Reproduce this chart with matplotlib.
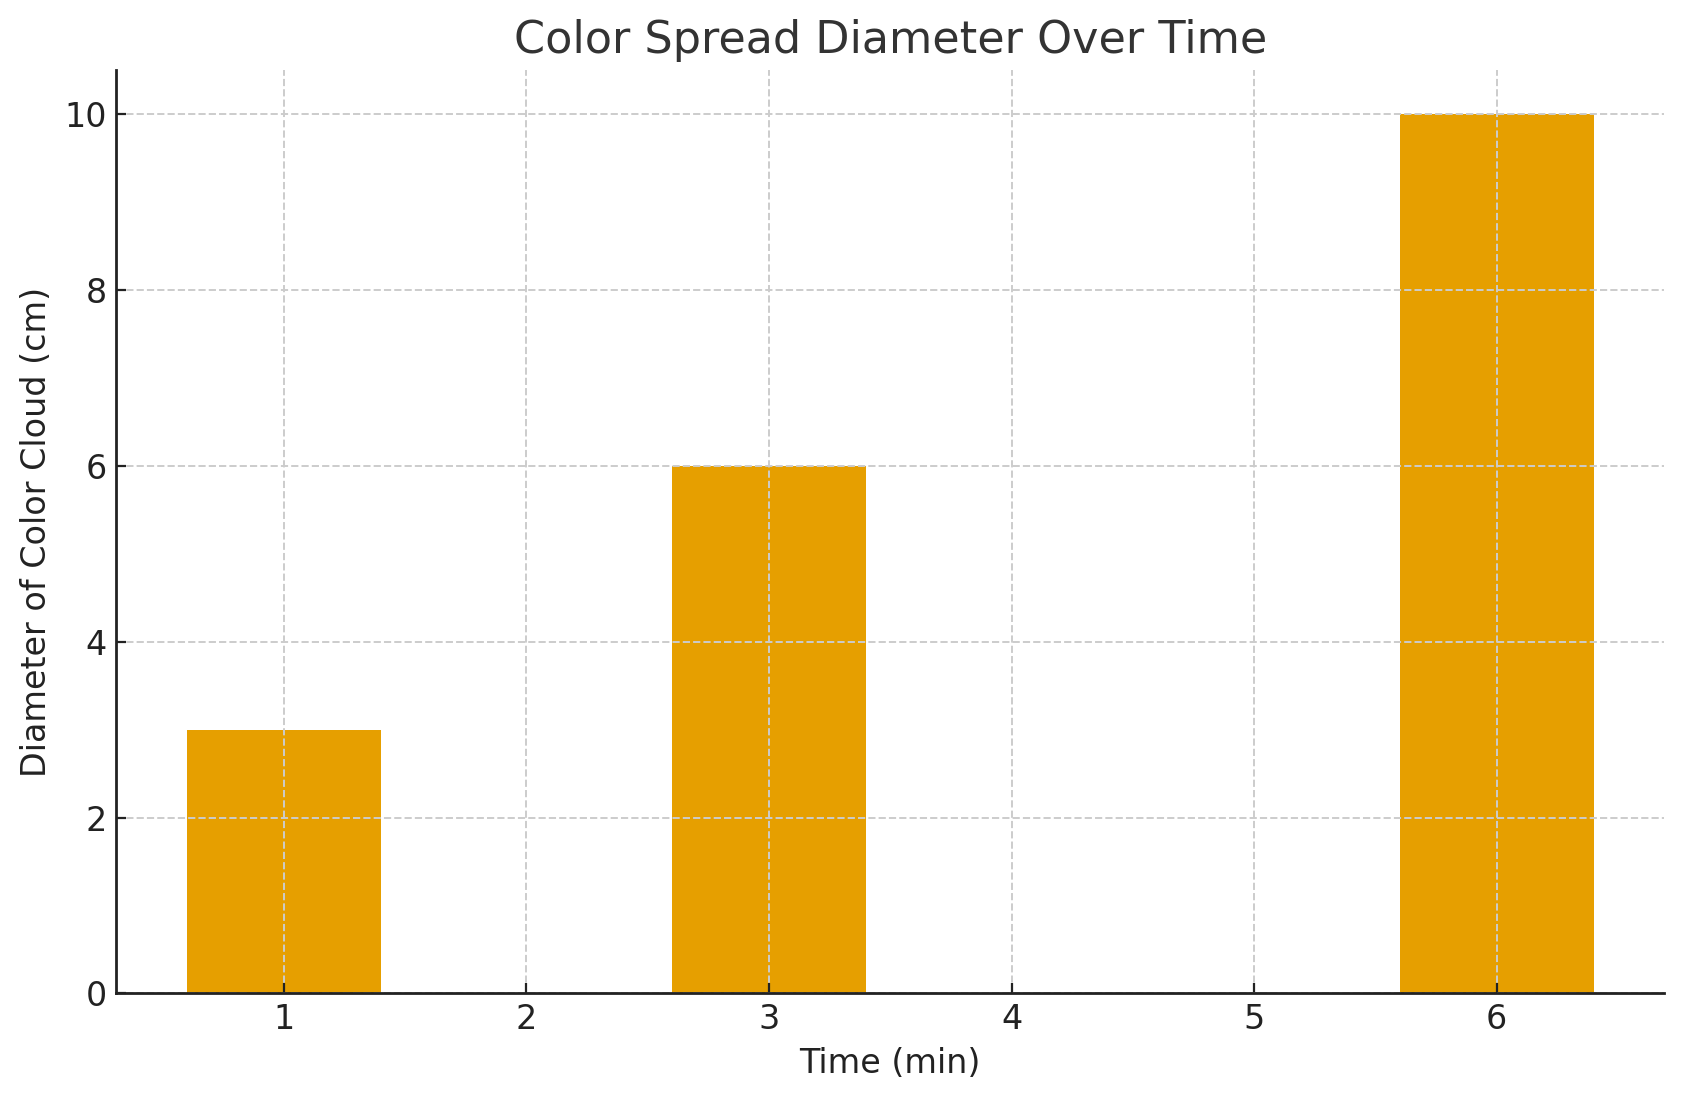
import matplotlib
matplotlib.use("Agg")
import matplotlib.pyplot as plt

# 数据
time_min = [1, 3, 6]
diameter_cm = [3, 6, 10]
bar_color = "#E69F00"

fig, ax = plt.subplots(figsize=(8.43, 5.505), dpi=200)
ax.bar(time_min, diameter_cm, width=0.8, color=bar_color, zorder=1)

ax.set_title("Color Spread Diameter Over Time", fontsize=16, color="#333333")
ax.set_xlabel("Time (min)", fontsize=12, color="#222222")
ax.set_ylabel("Diameter of Color Cloud (cm)", fontsize=12, color="#222222")

ax.grid(True, linestyle="--", color="#cccccc", linewidth=0.7, zorder=2)
ax.set_axisbelow(False)
ax.tick_params(direction="in", labelsize=12, colors="#222222")
ax.spines["top"].set_visible(False)
ax.spines["right"].set_visible(False)
for s in ("left", "bottom"):
    ax.spines[s].set_color("#222222")
    ax.spines[s].set_linewidth(1.0)
    ax.spines[s].set_zorder(5)

# 手动调整边距
plt.subplots_adjust(left=0.069, right=0.987, top=0.9365, bottom=0.0977)
plt.savefig("out.png", dpi=200)
